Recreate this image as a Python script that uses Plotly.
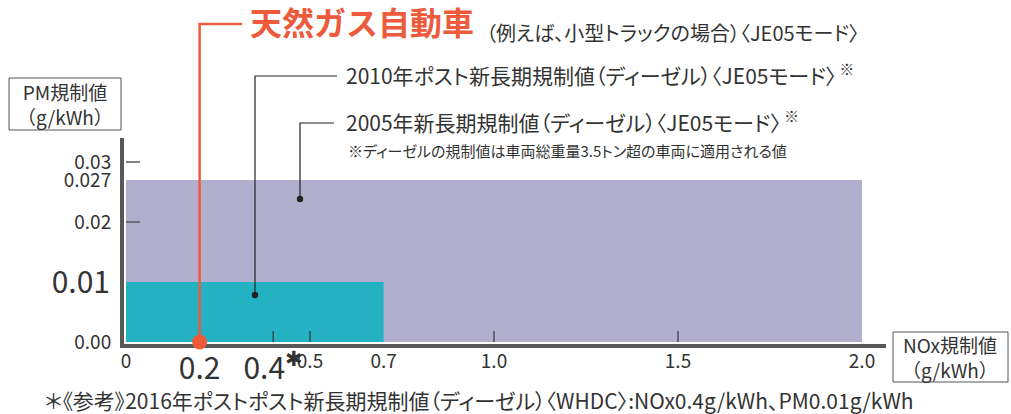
import plotly.graph_objects as go

# ---------------- data ----------------
REG_NAMES = ["2005年新長期規制値（ディーゼル）〈JE05モード〉",
             "2010年ポスト新長期規制値（ディーゼル）〈JE05モード〉"]
REG_NOX = [2.0, 0.7]          # g/kWh
REG_PM = [0.027, 0.01]        # g/kWh
NG_NAME = "天然ガス自動車"
NG_SUB = "（例えば、小型トラックの場合）〈JE05モード〉"
NG_NOX = [0.2]
NG_PM = [0.0]

X_TICKS = [0, 0.5, 0.7, 1.0, 1.5, 2.0]
X_TICK_TEXT = ["0", "0.5", "0.7", "1.0", "1.5", "2.0"]
X_BIG_TICKS = [0.2, 0.4]
X_BIG_TEXT = ["0.2", "0.4<sup>✱</sup>"]
Y_TICKS = [0, 0.02, 0.027, 0.03]
Y_TICK_TEXT = ["0.00", "0.02", "0.027", "0.03"]
Y_BIG_TICKS = [0.01]
Y_BIG_TEXT = ["0.01"]
X_MARKS = [0.4, 0.5, 1.0, 1.5]
Y_MARKS = [0.02, 0.03]

NOTE = "※ディーゼルの規制値は車両総重量3.5トン超の車両に適用される値"
FOOTER = "＊《参考》2016年ポストポスト新長期規制値（ディーゼル）〈WHDC〉:NOx0.4g/kWh、PM0.01g/kWh"
Y_TITLE = "PM規制値<br>（g/kWh）"
X_TITLE = "NOx規制値<br>（g/kWh）"

# ---------------- styles / geometry ----------------
FONT = "Noto Sans CJK JP"
TXT = "#333333"
AX = "#58585a"
RED = "#ee5a3c"
PURPLE = "#b2afce"
CYAN = "#24b1c2"

FW, FH = 1011, 414
L, R, T, B = 124, 125, 138, 70
W = FW - L - R
H = FH - T - B
XPX, YPX = 368.0, 6000.0
XMIN = -2 / XPX
XMAX = XMIN + W / XPX
YMIN = -2 / YPX
YMAX = YMIN + H / YPX


def px(x):
    return (x - L) / W


def py(y):
    return (T + H - y) / H


def dx(v):
    return (v - XMIN) / (XMAX - XMIN)


def dy(v):
    return (v - YMIN) / (YMAX - YMIN)


def palt(s):
    return "<span style=\"font-feature-settings:'palt'\">" + s + "</span>"


fig = go.Figure()
fills = [PURPLE, CYAN]
for name, nox, pm, col in zip(REG_NAMES, REG_NOX, REG_PM, fills):
    fig.add_trace(go.Scatter(x=[0, nox], y=[pm, pm], mode="none", fill="tozeroy",
                             fillcolor=col, name=name, showlegend=False, hoverinfo="skip"))

fig.add_trace(go.Scatter(x=NG_NOX, y=NG_PM, mode="markers", cliponaxis=False,
                         marker=dict(size=15, color=RED), name=NG_NAME,
                         showlegend=False, xaxis="x2", yaxis="y2"))

ax_common = dict(showgrid=False, zeroline=False, ticks="", fixedrange=True)
fig.update_layout(
    width=FW, height=FH,
    margin=dict(l=L, r=R, t=T, b=B),
    paper_bgcolor="white", plot_bgcolor="white",
    font=dict(family=FONT, color=TXT),
    xaxis=dict(range=[XMIN, XMAX], showline=True, linewidth=4, linecolor=AX,
               layer="below traces", tickvals=X_TICKS, ticktext=X_TICK_TEXT,
               tickfont=dict(size=19, color=TXT, family=FONT), ticklabelstandoff=-3,
               **ax_common),
    xaxis2=dict(range=[XMIN, XMAX], overlaying="x", anchor="y2", side="bottom",
                showline=False, tickvals=X_BIG_TICKS, ticktext=X_BIG_TEXT,
                tickfont=dict(size=30, color=TXT, family=FONT), ticklabelstandoff=4,
                **ax_common),
    yaxis=dict(range=[YMIN, YMAX], showline=True, linewidth=4, linecolor=AX,
               layer="below traces", tickvals=Y_TICKS, ticktext=Y_TICK_TEXT,
               tickfont=dict(size=19, color=TXT, family=FONT), ticklabelstandoff=5,
               **ax_common),
    yaxis2=dict(range=[YMIN, YMAX], overlaying="y", anchor="x2", side="left",
                showline=False, tickvals=Y_BIG_TICKS, ticktext=Y_BIG_TEXT,
                tickfont=dict(size=30, color=TXT, family=FONT), ticklabelstandoff=13,
                **ax_common),
)

shapes = []
# tick marks
for v in X_MARKS:
    shapes.append(dict(type="line", xref="x", yref="y", x0=v, x1=v, y0=0, y1=11 / YPX,
                       line=dict(color="#333333", width=1.2), layer="above"))
for v in Y_MARKS:
    shapes.append(dict(type="line", xref="x", yref="y", x0=0, x1=14 / XPX, y0=v, y1=v,
                       line=dict(color=AX, width=1.5), layer="above"))
# axis title boxes
shapes.append(dict(type="rect", xref="paper", yref="paper", x0=px(9), x1=px(121),
                   y0=py(130), y1=py(78), line=dict(color="#555555", width=1)))
shapes.append(dict(type="rect", xref="paper", yref="paper", x0=px(893), x1=px(1008),
                   y0=py(382), y1=py(332), line=dict(color="#555555", width=1)))
# red leader from natural gas point
xr = dx(NG_NOX[0])
shapes.append(dict(type="path", xref="paper", yref="paper",
                   path=f"M {xr},{dy(NG_PM[0])} L {xr},{py(24)} L {px(242)},{py(24)}",
                   line=dict(color=RED, width=2.5), layer="above"))
# black leaders
leaders = [((300, 199), 123, 334), ((255, 295), 76, 337)]
for (ax_, ay_), ty, tx in leaders:
    shapes.append(dict(type="path", xref="paper", yref="paper",
                       path=f"M {px(ax_)},{py(ay_)} L {px(ax_)},{py(ty)} L {px(tx)},{py(ty)}",
                       line=dict(color="#222222", width=1.2), layer="above"))
    shapes.append(dict(type="circle", xref="paper", yref="paper",
                       x0=px(ax_ - 3.2), x1=px(ax_ + 3.2), y0=py(ay_ + 3.2), y1=py(ay_ - 3.2),
                       fillcolor="#222222", line=dict(width=0), layer="above"))
fig.update_layout(shapes=shapes)

ann = []


def add_text(text, x, y, size, color=TXT, xanchor="left", align="left"):
    ann.append(dict(text=text, x=px(x), y=py(y), xref="paper", yref="paper",
                    xanchor=xanchor, yanchor="middle", showarrow=False, align=align,
                    font=dict(size=size, color=color, family=FONT)))


add_text(f"<b>{NG_NAME}</b>", 248, 21, 32, color=RED)
add_text(palt(NG_SUB), 484, 32, 20)
add_text(palt(REG_NAMES[1]) + "<sup> ※</sup>", 344, 74, 21)
add_text(palt(REG_NAMES[0]) + "<sup> ※</sup>", 344, 121, 21)
add_text(palt(NOTE), 346, 150, 15)
add_text(Y_TITLE, 65, 104, 19, xanchor="center", align="center")
add_text(X_TITLE, 950, 357, 19, xanchor="center", align="center")
add_text(palt(FOOTER), 43, 400, 21)
fig.update_layout(annotations=ann)

fig.write_html("out.html", config={"displayModeBar": False},
               post_script="document.body.style.margin='0px';")
